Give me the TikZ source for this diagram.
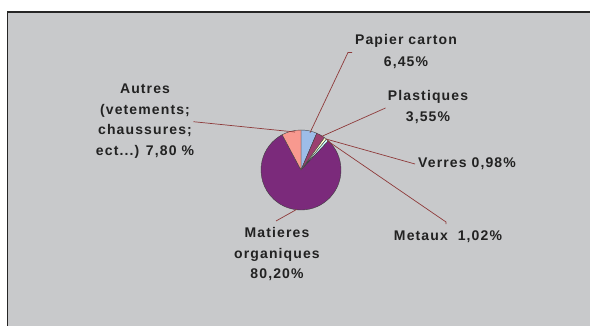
\documentclass[tikz,border=0pt]{standalone}
\usepackage{fontspec}
\setmainfont{Liberation Sans}[LetterSpace=8]
\definecolor{bg}{HTML}{C8C9CB}
\definecolor{leader}{HTML}{8E3A3A}
\definecolor{pcC}{HTML}{9DBDE8}
\definecolor{plC}{HTML}{9B3F6F}
\definecolor{veC}{HTML}{FFFFCC}
\definecolor{meC}{HTML}{CCFFFF}
\definecolor{maC}{HTML}{7B2A7B}
\definecolor{auC}{HTML}{F8998F}
\definecolor{txt}{HTML}{222222}
\tikzset{
  lbl/.style={align=center, inner sep=0pt, text=txt, font=\fontsize{14}{20.5}\selectfont\bfseries},
  lead/.style={draw=leader, line width=0.7pt},
  slice/.style={draw=black!75, line width=0.4pt, line join=round}
}
\begin{document}
\begin{tikzpicture}[x=1pt,y=1pt]
\useasboundingbox (0,0) rectangle (590,325);
\clip (0,0) rectangle (590,325);
\fill[white] (0,0) rectangle (590,325);
\filldraw[fill=bg, draw=black!85, line width=1.5pt] (7.5,-10) rectangle (600,313);
% pie
\coordinate (c) at (301,155);
\def\R{40}
\filldraw[slice, fill=pcC] (c) -- ++(90:\R) arc[start angle=90, end angle=66.78, radius=\R] -- cycle;
\filldraw[slice, fill=plC] (c) -- ++(66.78:\R) arc[start angle=66.78, end angle=54.0, radius=\R] -- cycle;
\filldraw[slice, fill=veC] (c) -- ++(54.0:\R) arc[start angle=54.0, end angle=50.47, radius=\R] -- cycle;
\filldraw[slice, fill=meC] (c) -- ++(50.47:\R) arc[start angle=50.47, end angle=46.8, radius=\R] -- cycle;
\filldraw[slice, fill=maC] (c) -- ++(46.8:\R) arc[start angle=46.8, end angle=-241.92, radius=\R] -- cycle;
\filldraw[slice, fill=auC] (c) -- ++(118.08:\R) arc[start angle=118.08, end angle=90, radius=\R] -- cycle;
% labels
\node[lbl, font=\fontsize{14}{22}\selectfont\bfseries] (pc) at (406,273.5) {Papier carton\\6,45\%};
\node[lbl] (pl) at (428,218) {Plastiques\\3,55\%};
\node[lbl] (ve) at (467,161.5) {Verres 0,98\%};
\node[lbl] (me) at (448,88) {Metaux\ \ 1,02\%};
\node[lbl] (ma) at (277,70.5) {Matieres\\organiques\\80,20\%};
\node[lbl] (au) at (145,204) {Autres\\(vetements;\\chaussures;\\ect...) 7,80 \%};
% leader anchor points
\coordinate (pcs) at (310,192.3);
\coordinate (pce) at (348,272.5);
\coordinate (pct) at (352,272.5);
\coordinate (pls) at (321.5,188.5);
\coordinate (ple) at (385.5,217);
\coordinate (ves) at (326,186);
\coordinate (vee) at (415,161);
\coordinate (mes) at (327,184.5);
\coordinate (mee) at (446,103);
\coordinate (met) at (446,101);
\coordinate (mas) at (296.5,115.5);
\coordinate (mae) at (276,104);
\coordinate (aus) at (295,193);
\coordinate (aue) at (193.5,203.3);
\draw[lead] (pcs) -- (pce) -- (pct);
\draw[lead] (pls) -- (ple);
\draw[lead] (ves) -- (vee);
\draw[lead] (mes) -- (mee) -- (met);
\draw[lead] (mas) -- (mae);
\draw[lead] (aus) -- (aue);
\end{tikzpicture}
\end{document}
